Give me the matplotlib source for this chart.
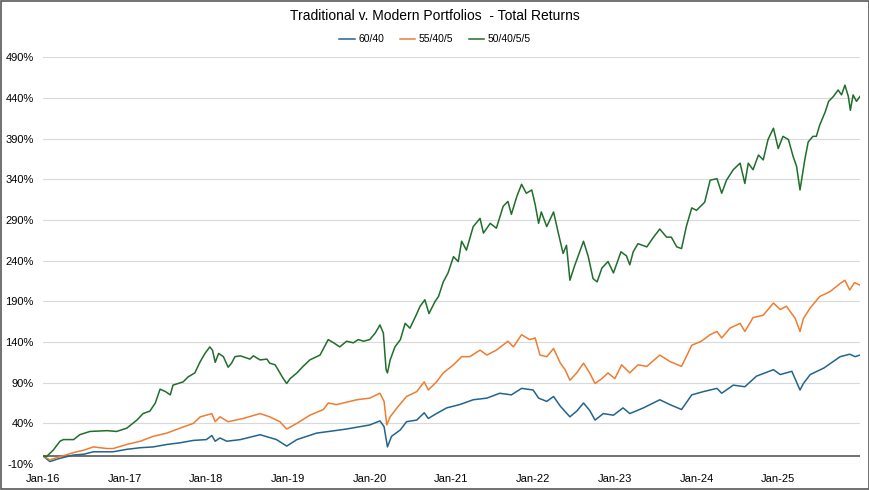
import matplotlib.pyplot as plt
from matplotlib.patches import Rectangle

# months since Jan-2016 and total return (%)
green_months = [0, 0.5, 1.5, 2.5, 3, 4.5, 5.4, 6.9, 9.4, 10.8, 12.3, 13.8, 14.7, 15.7, 16.5, 17.2, 18, 18.7, 19.1,
                20.6, 21.3, 22.3, 23.1, 23.8, 24.5, 24.9, 25.3, 25.8, 26.5, 27.2, 27.7, 28.2, 29, 30.4, 30.9, 31.9,
                32.9, 33.3, 34.1, 34.8, 35.3, 35.8, 36.3, 37.3, 38.2, 39.2, 40.7, 41.9, 42.7, 43.6, 44.6, 45.6,
                46.3, 47.1, 48.0, 48.8, 49.5, 50.0, 50.4, 50.6, 51.0, 51.7, 52.5, 53.2, 53.9, 54.7, 55.4, 56.1,
                56.7, 57.6, 58.1, 58.8, 59.5, 60.3, 61.0, 61.5, 62.2, 63.2, 64.2, 64.7, 65.7, 66.6, 67.6, 68.3,
                68.8, 69.6, 70.3, 71.0, 71.8, 72.3, 72.8, 73.2, 74.0, 75.0, 75.7, 76.4, 76.9, 77.4, 78.1, 79.4,
                80.1, 80.8, 81.4, 82.1, 83.0, 83.8, 84.9, 85.7, 86.2, 86.7, 87.4, 88.7, 89.6, 90.6, 91.6, 92.3,
                93.1, 93.8, 94.5, 95.3, 96.0, 97.2, 98.0, 99.0, 99.7, 100.4, 101.4, 102.4, 103.1, 103.6, 104.3,
                105.1, 105.8, 106.5, 107.3, 108.0, 108.7, 109.5, 110.2, 110.7, 111.2, 111.5, 111.9, 112.4, 113.1,
                113.6, 114.1, 114.9, 115.4, 116.1, 116.8, 117.3, 117.8, 118.3, 118.6, 119.0, 119.5, 120.0]
green_values = [0, -1, 7, 18, 20, 20, 26, 30, 31, 30, 34, 44, 52, 55, 65, 82, 79, 75, 87,
                91, 97, 102, 116, 126, 134, 130, 115, 126, 122, 109, 114, 122, 123, 119, 123, 118,
                119, 114, 112, 102, 95, 89, 95, 102, 110, 118, 124, 143, 139, 134, 141, 139,
                143, 141, 143, 151, 161, 151, 106, 102, 118, 134, 143, 163, 157, 171, 184, 192,
                175, 190, 196, 214, 225, 245, 239, 264, 253, 282, 292, 274, 286, 280, 307, 313,
                297, 319, 334, 323, 327, 309, 286, 300, 282, 300, 274, 249, 259, 216, 234, 264,
                245, 218, 214, 231, 239, 225, 251, 246, 235, 251, 261, 257, 268, 279, 269, 269,
                257, 255, 282, 305, 302, 312, 339, 341, 323, 339, 352, 360, 335, 360, 352,
                370, 364, 389, 403, 378, 393, 389, 368, 356, 327, 343, 364, 386, 393,
                393, 407, 423, 436, 442, 450, 444, 456, 442, 425, 444, 436, 442]

orange_months = [0, 1, 2.5, 4.5, 6, 7.4, 9.4, 10.3, 12.3, 14.3, 16.2, 18.2, 20.1, 22.1, 23.1, 24, 24.8, 25.3,
                 26, 27.2, 29.4, 31.9, 33.3, 34.8, 35.8, 37.3, 39.2, 41.2, 41.9, 43.1, 44.6, 46.1, 48, 49.5,
                 50.1, 50.5, 51, 52, 53.4, 54.9, 56, 56.6, 57.8, 58.8, 60.3, 61.5, 62.7, 64.2, 65.2, 66.6,
                 68.3, 69.1, 70.3, 71.5, 72.3, 73, 74, 75, 76, 76.7, 77.4, 78.4, 79.4, 80.3, 81.1, 82.1, 83,
                 84, 85, 86.2, 87.4, 88.7, 90.6, 92.1, 93.8, 95.3, 96.7, 98, 99, 99.7, 100.9, 102.4, 103.1,
                 104.3, 105.8, 107.3, 108.3, 109.2, 110.5, 111.2, 111.7, 112.7, 114.1, 115.6, 117.1, 117.8,
                 118.5, 119.2, 120]
orange_values = [0, -5, -1, 4, 7, 11, 9, 9, 14, 18, 24, 28, 34, 40, 48, 50, 52, 42,
                 48, 42, 46, 52, 48, 42, 33, 40, 50, 57, 65, 63, 66, 69, 71, 77,
                 67, 38, 48, 59, 73, 79, 91, 81, 91, 102, 112, 122, 122, 130, 124, 130,
                 141, 134, 149, 143, 145, 124, 122, 132, 114, 106, 93, 102, 114, 102, 89, 95, 102,
                 95, 112, 102, 112, 110, 124, 116, 110, 136, 141, 149, 153, 145, 157, 163, 153,
                 170, 173, 188, 180, 184, 169, 153, 169, 182, 196, 202, 212, 216,
                 204, 213, 210]

blue_months = [0, 1, 2.5, 4.5, 6, 7.4, 10.3, 12.3, 14.3, 16.2, 18.2, 20.1, 22.1, 24, 24.8, 25.3, 26, 27,
               29, 31.9, 34.3, 35.8, 37.3, 40.2, 42, 44.6, 48, 49.5, 50.1, 50.6, 51.2, 52.5, 53.4, 54.9,
               56, 56.6, 57.8, 59.3, 61.2, 63.2, 65.2, 67.1, 68.8, 70.3, 72, 72.8, 74, 75, 76, 77.4, 78.4,
               79.4, 80.3, 81.1, 82.3, 83.8, 85.2, 86.2, 88.2, 90.6, 92.1, 93.8, 95.3, 97, 99, 99.7, 101.4,
               103.1, 104.8, 107.3, 108.3, 110, 111.2, 111.7, 112.7, 114.7, 117.1, 118.5, 119.3, 120]
blue_values = [0, -7, -3, 1, 2, 5, 5, 8, 10, 11, 14, 16, 19, 20, 25, 18, 22, 18,
               20, 26, 20, 12, 20, 28, 30, 33, 38, 43, 36, 11, 24, 32, 42, 44,
               53, 46, 52, 59, 63, 69, 71, 77, 75, 83, 81, 71, 67, 73, 61, 48, 55,
               65, 56, 44, 52, 50, 59, 52, 59, 69, 63, 57, 75, 79, 83, 77, 87,
               85, 98, 106, 100, 104, 81, 89, 100, 108, 122, 125, 122, 124]

tick_labels = ["Jan-16", "Jan-17", "Jan-18", "Jan-19", "Jan-20",
               "Jan-21", "Jan-22", "Jan-23", "Jan-24", "Jan-25"]
y_ticks = list(range(-10, 491, 50))

plt.rcParams["font.family"] = ["Liberation Sans", "DejaVu Sans"]

fig = plt.figure(figsize=(8.7, 4.9), dpi=100)
ax = fig.add_axes([0.0494, 0.0531, 0.939, 0.8296])

ax.plot(blue_months, blue_values, color="#22648e", lw=1.1, label="60/40")
ax.plot(orange_months, orange_values, color="#ed7d31", lw=1.1, label="55/40/5")
ax.plot(green_months, green_values, color="#1f6e2b", lw=1.1, label="50/40/5/5")

ax.axhline(0, color="#595959", lw=1.2, zorder=1)

ax.set_xlim(0, 120)
ax.set_ylim(-10, 490)
ax.set_xticks(range(0, 120, 12))
ax.set_xticklabels(tick_labels)
ax.set_yticks(y_ticks)
ax.set_yticklabels([f"{v}%" for v in y_ticks])
ax.tick_params(length=0, labelsize=8, colors="#000000")
ax.tick_params(axis="x", pad=7)
ax.tick_params(axis="y", pad=6.5)
ax.grid(axis="y", color="#d9d9d9", lw=0.8)
ax.set_axisbelow(True)
for s in ax.spines.values():
    s.set_visible(False)

fig.text(0.5, 0.967, "Traditional v. Modern Portfolios  - Total Returns",
         ha="center", va="center", fontsize=10)
fig.legend(loc="center", bbox_to_anchor=(0.5, 0.92), ncol=3, frameon=False,
           fontsize=7.5, handlelength=1.5, handletextpad=0.3, columnspacing=1.5)

fig.add_artist(Rectangle((0.0012, 0.002), 0.9976, 0.996, transform=fig.transFigure,
                         fill=False, edgecolor="#595959", lw=1.2))

fig.savefig("out.png", dpi=100)
